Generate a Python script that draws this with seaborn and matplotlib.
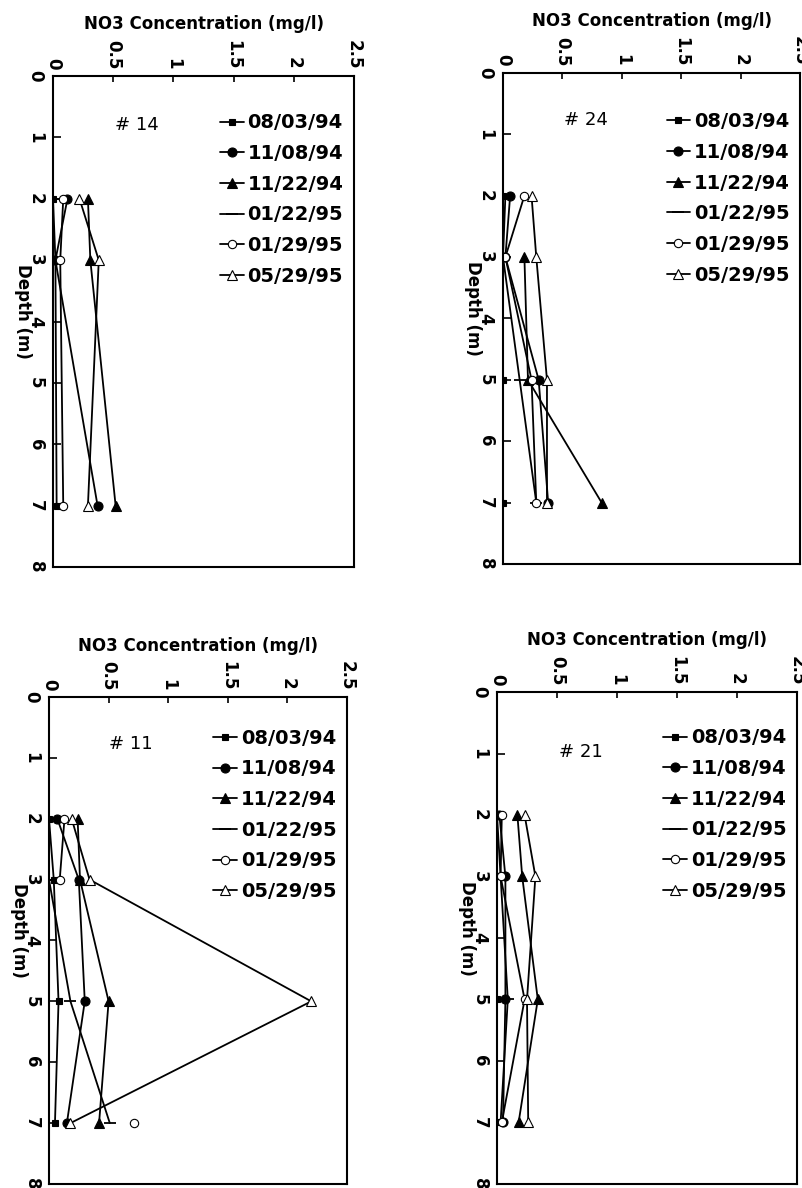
import numpy as np
import pandas as pd
import matplotlib
matplotlib.use('Agg')
import matplotlib.pyplot as plt
from matplotlib.lines import Line2D
import seaborn as sns

nan = np.nan

dates = ['08/03/94', '11/08/94', '11/22/94', '01/22/95', '01/29/95', '05/29/95']

# well 14 (only sampled at 2, 3 and 7 m)
depth_14 = [2, 3, 7]
no3_14_0803 = [0.00, 0.02, 0.03]
no3_14_1108 = [0.12, 0.02, 0.37]
no3_14_1122 = [0.29, 0.31, 0.52]
no3_14_0122 = [0.00, 0.00, 0.00]
no3_14_0129 = [0.085, 0.06, 0.085]
no3_14_0529 = [0.22, 0.38, 0.29]

# well 24
depth_24 = [2, 3, 5, 7]
no3_24_0803 = [0.00, 0.00, 0.00, 0.00]
no3_24_1108 = [0.06, 0.02, 0.30, 0.38]
no3_24_1122 = [nan, 0.18, 0.21, 0.83]
no3_24_0122 = [0.02, 0.00, 0.14, 0.28]
no3_24_0129 = [0.18, 0.02, 0.24, 0.28]
no3_24_0529 = [0.24, 0.28, 0.37, 0.37]

# well 11 (01/29/95 has no 5 m value, so the 7 m point stands alone)
depth_11 = [2, 3, 5, 7]
no3_11_0803 = [0.00, 0.04, 0.08, 0.05]
no3_11_1108 = [0.07, 0.25, 0.30, 0.15]
no3_11_1122 = [0.24, 0.26, 0.50, 0.42]
no3_11_0122 = [0.00, 0.00, 0.18, 0.51]
no3_11_0129 = [0.13, 0.09, nan, 0.71]
no3_11_0529 = [0.19, 0.34, 2.20, 0.18]

# well 21
depth_21 = [2, 3, 5, 7]
no3_21_0803 = [0.00, 0.00, 0.00, 0.00]
no3_21_1108 = [0.02, 0.07, 0.07, 0.05]
no3_21_1122 = [0.17, 0.21, 0.34, 0.18]
no3_21_0122 = [0.00, 0.03, 0.09, 0.03]
no3_21_0129 = [0.04, 0.03, 0.23, 0.04]
no3_21_0529 = [0.23, 0.32, 0.25, 0.26]

x_ticks = [0, 0.5, 1, 1.5, 2, 2.5]
x_ticklabels = ['0', '0.5', '1', '1.5', '2', '2.5']
y_ticks = [0, 1, 2, 3, 4, 5, 6, 7, 8]

panels = [
    ('# 14', depth_14, [no3_14_0803, no3_14_1108, no3_14_1122, no3_14_0122, no3_14_0129, no3_14_0529]),
    ('# 24', depth_24, [no3_24_0803, no3_24_1108, no3_24_1122, no3_24_0122, no3_24_0129, no3_24_0529]),
    ('# 11', depth_11, [no3_11_0803, no3_11_1108, no3_11_1122, no3_11_0122, no3_11_0129, no3_11_0529]),
    ('# 21', depth_21, [no3_21_0803, no3_21_1108, no3_21_1122, no3_21_0122, no3_21_0129, no3_21_0529]),
]

sns.set_style('white')
plt.rcParams['font.family'] = ['DejaVu Sans']
plt.rcParams['text.color'] = 'black'
plt.rcParams['axes.labelcolor'] = 'black'
plt.rcParams['xtick.color'] = 'black'
plt.rcParams['ytick.color'] = 'black'

styles = {
    '08/03/94': dict(marker='s', markersize=4, markerfacecolor='black', markeredgewidth=0.8),
    '11/08/94': dict(marker='o', markersize=6.5, markerfacecolor='black', markeredgewidth=0.8),
    '11/22/94': dict(marker='^', markersize=6.5, markerfacecolor='black', markeredgewidth=0.8),
    '01/22/95': dict(marker='_', markersize=8, markerfacecolor='black', markeredgewidth=1.3),
    '01/29/95': dict(marker='o', markersize=6, markerfacecolor='white', markeredgewidth=0.8),
    '05/29/95': dict(marker='^', markersize=6.5, markerfacecolor='white', markeredgewidth=0.8),
}

fig = plt.figure(figsize=(8.02, 11.88), dpi=100)
# axes boxes in figure fractions [left, bottom, width, height]
boxes = [
    [0.0661, 0.5227, 0.3753, 0.4133],
    [0.6272, 0.5253, 0.3703, 0.4133],
    [0.0611, 0.0034, 0.3716, 0.4099],
    [0.6197, 0.0034, 0.3741, 0.4141],
]
name_pos = [(0.28, 0.90), (0.28, 0.904), (0.275, 0.903), (0.28, 0.878)]
legend_y = [0.924, 0.92, 0.935, 0.926]

for (name, depth, series), box, npos, ly in zip(panels, boxes, name_pos, legend_y):
    ax = fig.add_axes(box)
    for date, vals in zip(dates, series):
        vals = np.array(vals, dtype=float)
        dep = np.array(depth, dtype=float)
        ok = ~np.isnan(vals)
        run = np.cumsum(~ok)
        df = pd.DataFrame({'depth': dep[ok], 'conc': vals[ok], 'run': run[ok]})
        for _, g in df.groupby('run'):
            sns.lineplot(data=g, x='conc', y='depth', orient='y', estimator=None,
                         color='black', lw=1.3, markeredgecolor='black', ax=ax,
                         **styles[date])

    ax.set_xlim(0, 2.5)
    ax.set_ylim(8, 0)
    ax.xaxis.tick_top()
    ax.set_xticks(x_ticks)
    ax.set_xticklabels(x_ticklabels, fontweight='bold', fontsize=12,
                       rotation=-90, ha='center', va='bottom')
    ax.set_yticks(y_ticks)
    ax.set_yticklabels([str(t) for t in y_ticks], fontweight='bold', fontsize=12,
                       rotation=-90, ha='right', va='center')
    ax.tick_params(axis='x', direction='in', length=4, width=1.2, pad=5,
                   top=True, bottom=False)
    ax.tick_params(axis='y', direction='in', length=6, width=1.2, pad=6,
                   left=True, right=False)
    for sp in ax.spines.values():
        sp.set_linewidth(1.5)
        sp.set_color('black')

    ax.set_xlabel('')
    ax.set_ylabel('Depth (m)', rotation=-90, fontweight='bold', fontsize=12, va='center')
    ax.yaxis.set_label_coords(-0.10, 0.52)
    ax.set_title('NO3 Concentration (mg/l)', fontweight='bold', fontsize=12, y=1.095, pad=0)

    ax.text(npos[0], npos[1], name, transform=ax.transAxes, fontsize=13,
            ha='center', va='center')

    handles = [Line2D([], [], color='black', lw=1.3, markeredgecolor='black', **styles[d])
               for d in dates]
    leg = ax.legend(handles, dates, loc='upper right', bbox_to_anchor=(0.965, ly),
                    frameon=False, borderpad=0, borderaxespad=0, handlelength=1.2,
                    handletextpad=0.2, labelspacing=0.6,
                    prop={'weight': 'bold', 'size': 14})

fig.savefig('out.png', dpi=100)
